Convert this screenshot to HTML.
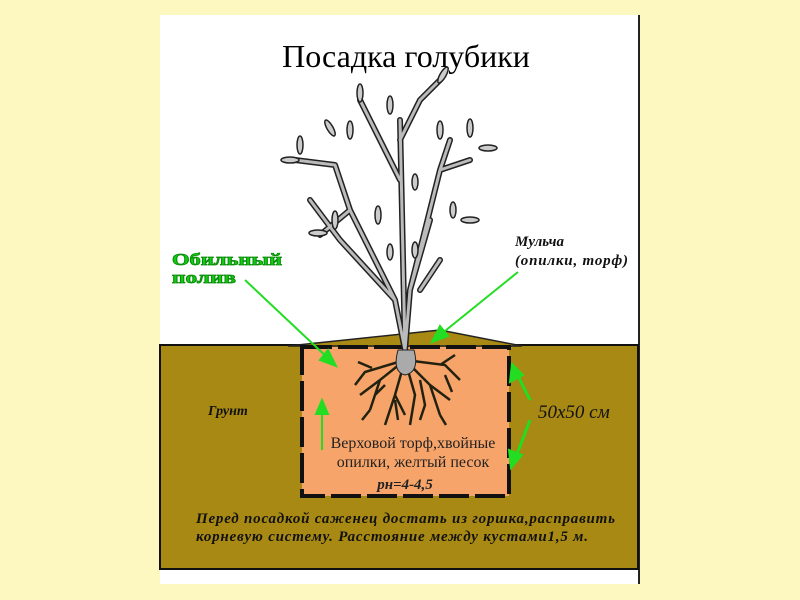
<!DOCTYPE html>
<html><head><meta charset="utf-8"><style>
body{margin:0;background:#fcf8c0;}
svg{display:block}
text{font-family:"Liberation Serif",serif}
</style></head><body>
<svg width="800" height="600" viewBox="0 0 800 600">
<rect width="800" height="600" fill="#fcf8c0"/>
<rect x="160" y="15" width="480" height="569" fill="#fff"/>
<rect x="638" y="15" width="2" height="569" fill="#222"/>
<text x="406" y="67" font-size="32" text-anchor="middle" fill="#000">Посадка голубики</text>
<!-- ground -->
<rect x="160" y="345" width="478" height="224" fill="#a88913" stroke="#111" stroke-width="2"/>
<polygon points="288,346 440,330 522,346" fill="#a88913" stroke="#222" stroke-width="1.5"/>
<rect x="302" y="347" width="207" height="149" fill="#f7a46a"/>
<rect x="302" y="347" width="207" height="149" fill="none" stroke="#111" stroke-width="4" stroke-dasharray="30,6"/>
<!-- tree branches -->
<g fill="none" stroke-linecap="round">
<g stroke="#222" stroke-width="6">
<path d="M405,350 L400,120 M405,350 L395,300 L350,210 L335,165 M395,300 L340,240 L310,200 M405,350 L410,290 L440,170 L450,140 M410,290 L430,220 M400,180 L380,140 L360,100 M400,140 L420,100 L440,80 M350,210 L320,235 M335,165 L295,160 M440,170 L470,160 M420,290 L440,260"/>
</g>
<g stroke="#bbb" stroke-width="3">
<path d="M405,350 L400,120 M405,350 L395,300 L350,210 L335,165 M395,300 L340,240 L310,200 M405,350 L410,290 L440,170 L450,140 M410,290 L430,220 M400,180 L380,140 L360,100 M400,140 L420,100 L440,80 M350,210 L320,235 M335,165 L295,160 M440,170 L470,160 M420,290 L440,260"/>
</g>
</g>
<g fill="#ccc" stroke="#222" stroke-width="1.5">
<ellipse cx="360" cy="93" rx="3" ry="9"/><ellipse cx="390" cy="105" rx="3" ry="9"/><ellipse cx="443" cy="75" rx="3" ry="9" transform="rotate(30 443 75)"/>
<ellipse cx="300" cy="145" rx="3" ry="9"/><ellipse cx="290" cy="160" rx="9" ry="3"/><ellipse cx="330" cy="128" rx="3" ry="9" transform="rotate(-30 330 128)"/>
<ellipse cx="350" cy="130" rx="3" ry="9"/><ellipse cx="440" cy="130" rx="3" ry="9"/><ellipse cx="470" cy="128" rx="3" ry="9"/>
<ellipse cx="488" cy="148" rx="9" ry="3"/><ellipse cx="318" cy="233" rx="9" ry="3"/><ellipse cx="335" cy="220" rx="3" ry="9"/>
<ellipse cx="378" cy="215" rx="3" ry="9"/><ellipse cx="415" cy="182" rx="3" ry="8"/><ellipse cx="453" cy="210" rx="3" ry="8"/>
<ellipse cx="390" cy="252" rx="3" ry="8"/><ellipse cx="415" cy="250" rx="3" ry="8"/><ellipse cx="470" cy="220" rx="9" ry="3"/>
</g>
<!-- roots -->
<g stroke="#221" stroke-width="2.5" fill="none">
<path d="M405,360 L380,380 L370,410 M405,360 L395,395 L385,425 M405,360 L415,395 L410,425 M405,360 L430,385 L440,415 M405,360 L445,365 L460,380 M405,360 L365,372 L355,385 M380,380 L360,395 M430,385 L450,400 M395,395 L405,415 M372,368 L358,362 M440,365 L455,355 M385,385 L375,395 M420,380 L425,405 L420,420 M370,410 L362,420 M440,415 L446,425 M395,400 L398,420 M445,375 L452,392"/>
</g>
<path d="M398,350 Q392,372 405,375 Q420,372 414,350 Z" fill="#aaa" stroke="#222"/>
<!-- arrows -->
<g stroke="#22dd22" stroke-width="2" fill="#22dd22">
<line x1="245" y1="280" x2="330" y2="360"/><polygon points="336,366 320,360 328,350"/>
<line x1="518" y1="272" x2="440" y2="335"/><polygon points="432,342 440,326 448,336"/>
<line x1="322" y1="450" x2="322" y2="408"/><polygon points="322,400 316,414 328,414"/>
<line x1="530" y1="400" x2="515" y2="370" stroke-width="3"/><polygon points="512,364 510,382 523,375"/>
<line x1="530" y1="420" x2="514" y2="462" stroke-width="3"/><polygon points="511,468 509,450 522,455"/>
</g>
<text x="172" y="265" font-family="DejaVu Sans,sans-serif" font-weight="bold" font-size="17" fill="#11cc11" stroke="#0a8a0a" stroke-width="0.8" textLength="110" lengthAdjust="spacingAndGlyphs">Обильный</text>
<text x="172" y="283" font-family="DejaVu Sans,sans-serif" font-weight="bold" font-size="17" fill="#11cc11" stroke="#0a8a0a" stroke-width="0.8" textLength="64" lengthAdjust="spacingAndGlyphs">полив</text>
<text x="515" y="246" font-size="15" font-style="italic" font-weight="bold" fill="#111">Мульча</text>
<text x="515" y="265" font-size="15" font-style="italic" font-weight="bold" fill="#111" textLength="113">(опилки, торф)</text>
<text x="208" y="415" font-size="14" font-style="italic" font-weight="bold" fill="#111">Грунт</text>
<text x="538" y="418" font-size="19" font-style="italic" fill="#111">50x50 см</text>
<text x="413" y="448" font-size="16" text-anchor="middle" fill="#222">Верховой торф,хвойные</text>
<text x="413" y="467" font-size="16" text-anchor="middle" fill="#222">опилки, желтый песок</text>
<text x="405" y="489" font-size="15" text-anchor="middle" font-style="italic" font-weight="bold" fill="#222">рн=4-4,5</text>
<text x="196" y="523" font-size="15" font-style="italic" font-weight="bold" fill="#111" textLength="419">Перед посадкой саженец достать из горшка,расправить</text>
<text x="196" y="541" font-size="15" font-style="italic" font-weight="bold" fill="#111" textLength="392">корневую систему. Расстояние между кустами1,5 м.</text>
</svg>
</body></html>
